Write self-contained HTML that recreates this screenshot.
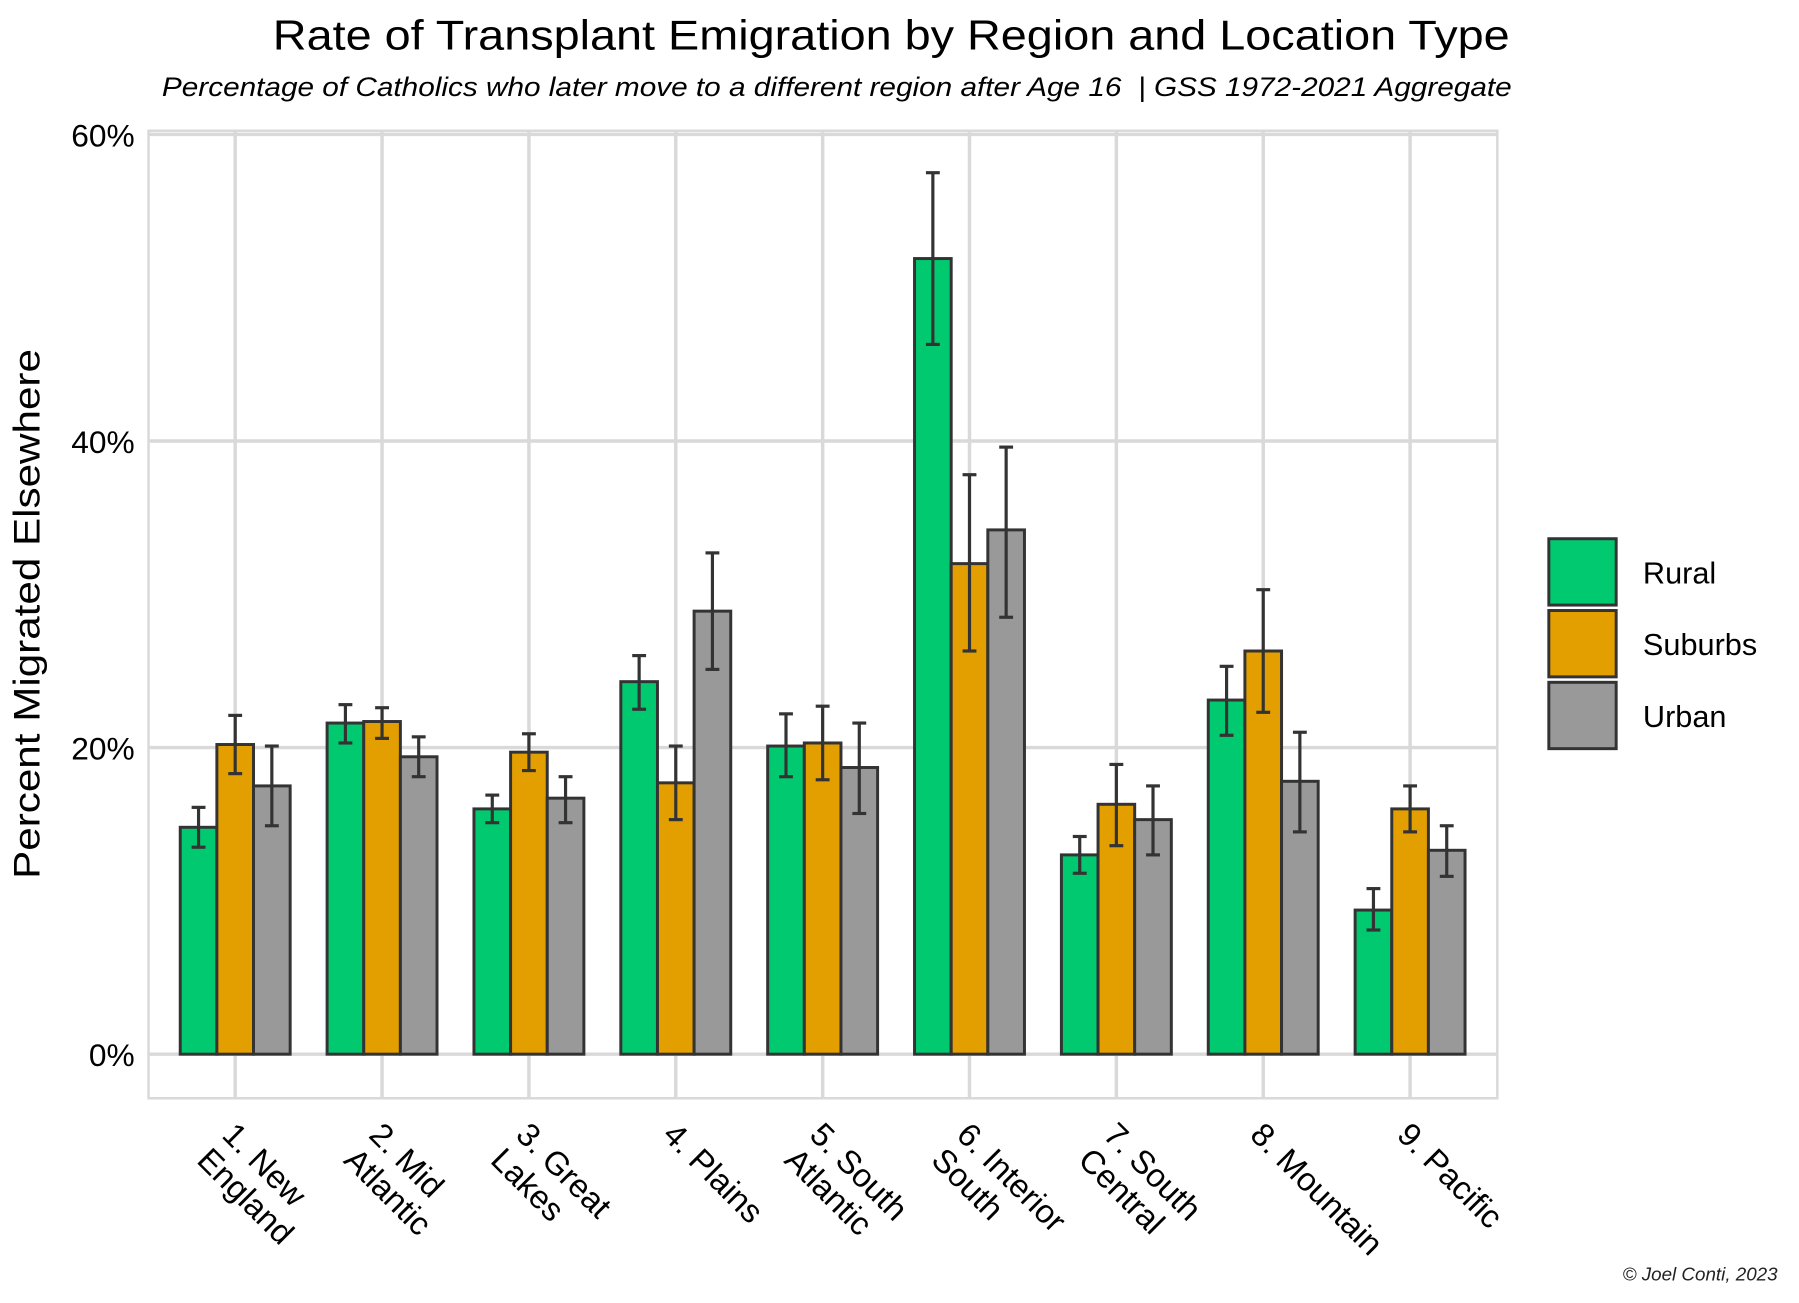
<!DOCTYPE html>
<html><head><meta charset="utf-8"><style>
html,body{margin:0;padding:0;background:#fff;}
svg{display:block;font-family:"Liberation Sans",sans-serif;}
</style></head><body>
<svg id="chart" width="1799" height="1303" viewBox="0 0 1799 1303">
<g transform="scale(0.9903)">
<text x="900" y="50" text-anchor="middle" font-size="42" textLength="1249" lengthAdjust="spacingAndGlyphs" fill="#000">Rate of Transplant Emigration by Region and Location Type</text>
<text x="845" y="97" text-anchor="middle" font-size="27" font-style="italic" textLength="1363" lengthAdjust="spacingAndGlyphs" fill="#000">Percentage of Catholics who later move to a different region after Age 16 &#160;| GSS 1972-2021 Aggregate</text>
<g id="grid"></g>
<g id="bars"></g>
<g id="axes"></g>
<text transform="translate(40,620) rotate(-90)" text-anchor="middle" font-size="37" textLength="535" lengthAdjust="spacingAndGlyphs" fill="#000">Percent Migrated Elsewhere</text>
<g id="legend"></g>
<text x="1795" y="1293" text-anchor="end" font-size="19" font-style="italic" fill="#222">© Joel Conti, 2023</text>
</g>
</svg>
<script>
const categories=[["1. New","England"],["2. Mid","Atlantic"],["3. Great","Lakes"],["4. Plains"],["5. South","Atlantic"],["6. Interior","South"],["7. South","Central"],["8. Mountain"],["9. Pacific"]];
const seriesNames=["Rural","Suburbs","Urban"];
const rural=[14.8,21.6,16.0,24.3,20.1,51.9,13.0,23.1,9.4];
const ruralHi=[16.1,22.8,16.9,26.0,22.2,57.5,14.2,25.3,10.8];
const ruralLo=[13.5,20.3,15.1,22.5,18.1,46.3,11.8,20.8,8.1];
const suburbs=[20.2,21.7,19.7,17.7,20.3,32.0,16.3,26.3,16.0];
const suburbsHi=[22.1,22.6,20.9,20.1,22.7,37.8,18.9,30.3,17.5];
const suburbsLo=[18.3,20.6,18.5,15.3,17.9,26.3,13.6,22.3,14.5];
const urban=[17.5,19.4,16.7,28.9,18.7,34.2,15.3,17.8,13.3];
const urbanHi=[20.1,20.7,18.1,32.7,21.6,39.6,17.5,21.0,14.9];
const urbanLo=[14.9,18.1,15.1,25.1,15.7,28.5,13.0,14.5,11.6];
const yTicks=[0,20,40,60];
const yTickLabels=["0%","20%","40%","60%"];

const NS="http://www.w3.org/2000/svg";
const colors=["#00c96f","#e39e00","#999999"];
const px0=150,px1=1512,py0=132,py1=1109;
const y0=1064.5,yPer=15.48;
function yScale(v){return y0-v*yPer;}
const step=148.3,x0=237.5;
function xScale(i){return x0+i*step;}
const barW=37;
function mk(tag,attrs,parent){const e=document.createElementNS(NS,tag);for(const k in attrs)e.setAttribute(k,attrs[k]);parent.appendChild(e);return e;}
const grid=document.getElementById('grid'),bars=document.getElementById('bars'),axes=document.getElementById('axes'),legend=document.getElementById('legend');
let r=mk('rect',{x:px0,y:py0,width:px1-px0,height:py1-py0,fill:'none',stroke:'#d9d9d9','stroke-width':2.5},grid);


yTicks.forEach((t,i)=>{
  const l=mk('line',{x1:px0,x2:px1,y1:yScale(t),y2:yScale(t),stroke:'#d9d9d9','stroke-width':3.5},grid);
  
  
  const tx=mk('text',{x:136,y:yScale(t)+12,'text-anchor':'end','font-size':32,fill:'#000'},axes);
  tx.textContent=yTickLabels[i];
  
  
});
categories.forEach((c,i)=>{
  const cx=xScale(i);
  const l=mk('line',{x1:cx,x2:cx,y1:py0,y2:py1,stroke:'#d9d9d9','stroke-width':3.5},grid);
  
  
  const t=mk('text',{transform:'translate('+(cx+3)+',1130) rotate(45)','font-size':33,fill:'#000'},axes);
  
  
  c.forEach((line,j)=>{const ts=mk('tspan',{x:0,y:25+j*36},t);ts.textContent=line;});
});
const vals=[rural,suburbs,urban],his=[ruralHi,suburbsHi,urbanHi],los=[ruralLo,suburbsLo,urbanLo];
categories.forEach((c,i)=>{
  for(let s=0;s<3;s++){
    const bx=xScale(i)+(s-1)*barW-barW/2;
    const v=vals[s][i];
    const b=mk('rect',{x:bx,y:yScale(v),width:barW,height:yScale(0)-yScale(v),fill:colors[s],stroke:'#333','stroke-width':3},bars);
    
    
    const ex=bx+barW/2,hi=yScale(his[s][i]),lo=yScale(los[s][i]);
    const g=mk('g',{stroke:'#333','stroke-width':3.2},bars);
    
    
    mk('line',{x1:ex,x2:ex,y1:hi,y2:lo},g);
    mk('line',{x1:ex-7,x2:ex+7,y1:hi,y2:hi},g);
    mk('line',{x1:ex-7,x2:ex+7,y1:lo,y2:lo},g);
  }
});
seriesNames.forEach((n,s)=>{
  const ky=544+s*72.5;
  const k=mk('rect',{x:1564,y:ky,width:68,height:67,fill:colors[s],stroke:'#333','stroke-width':3},legend);
  
  
  const t=mk('text',{x:1659,y:ky+45,'font-size':31,fill:'#000'},legend);
  t.textContent=n;
  
  
});
</script>
</body></html>
